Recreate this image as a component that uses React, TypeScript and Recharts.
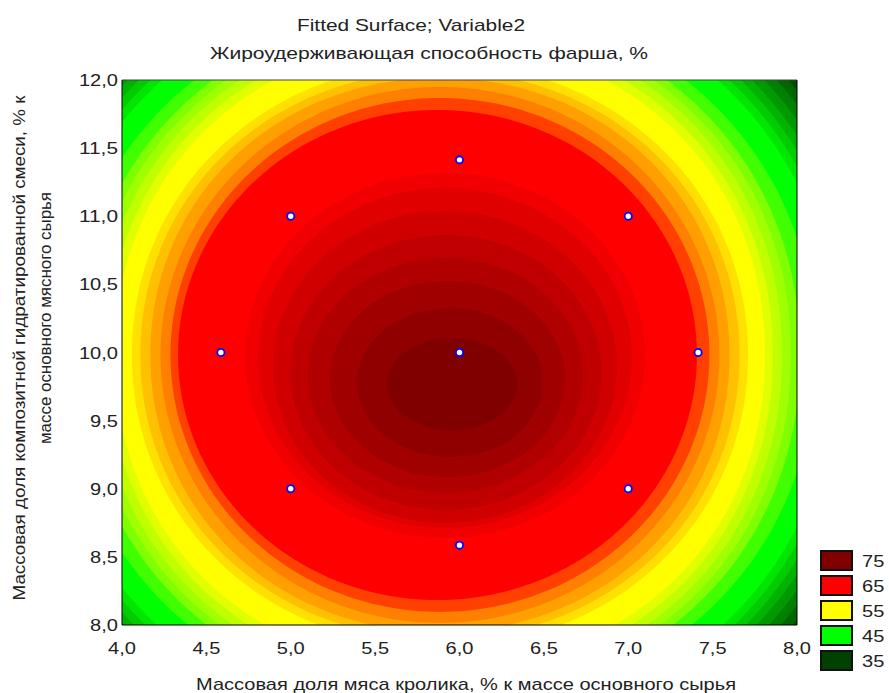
import React from 'react';
import { ScatterChart, Scatter, XAxis, YAxis, ReferenceArea, Customized } from 'recharts';

// ---- axis ticks ----
const xTicks = [4, 4.5, 5, 5.5, 6, 6.5, 7, 7.5, 8];
const yTicks = [8, 8.5, 9, 9.5, 10, 10.5, 11, 11.5, 12];

// ---- experimental design points ----
const designX = [4.586, 5, 5, 6, 6, 6, 7, 7, 7.414];
const designY = [10, 9, 11, 8.586, 10, 11.414, 9, 11, 10];

// ---- legend ----
const legendLevels = [75, 65, 55, 45, 35];
const legendColors = ['#800000', '#ff0000', '#ffff00', '#00ff00', '#004000'];

// ---- contour bands (outermost first): bounding box and roundness of each filled contour ----
const bandColors = [
  '#004d00', '#006600', '#008000', '#009900', '#00b300', '#00cc00', '#00e600', '#00ff00',
  '#40ff00', '#80ff00', '#a0ff00', '#c0ff00', '#e0ff00', '#ffff00', '#ffe000', '#ffc000',
  '#ffa000', '#ff8000', '#ff4000', '#ff0000', '#f00000', '#e00000', '#d00000', '#c00000',
  '#b00000', '#a00000', '#900000', '#800000',
];
const bandX1 = [3.176, 3.235, 3.288, 3.342, 3.395, 3.443, 3.49, 3.537, 3.662, 3.751, 3.804, 3.857, 3.911, 3.958, 4.059, 4.109, 4.168, 4.228, 4.287, 4.332, 4.729, 4.806, 4.895, 4.996, 5.102, 5.233, 5.393, 5.57];
const bandX2 = [8.592, 8.533, 8.48, 8.426, 8.373, 8.325, 8.278, 8.231, 8.106, 8.017, 7.964, 7.911, 7.857, 7.81, 7.709, 7.659, 7.6, 7.54, 7.481, 7.407, 7.099, 7.022, 6.933, 6.844, 6.732, 6.625, 6.495, 6.341];
const bandY1 = [6.818, 6.887, 6.949, 7.012, 7.074, 7.129, 7.185, 7.24, 7.384, 7.45, 7.501, 7.553, 7.611, 7.677, 7.839, 7.898, 7.949, 8.015, 8.096, 8.183, 8.639, 8.712, 8.749, 8.844, 8.969, 9.086, 9.233, 9.431];
const bandY2 = [13.146, 13.077, 13.015, 12.952, 12.89, 12.835, 12.779, 12.724, 12.58, 12.514, 12.463, 12.411, 12.353, 12.287, 12.125, 12.066, 12.015, 11.949, 11.868, 11.78, 11.317, 11.207, 11.039, 10.862, 10.694, 10.525, 10.327, 10.106];
const bandRoundness = [2.1, 2.1, 2.1, 2.1, 2.1, 2.1, 2.1, 2.1, 2.1, 2.1, 2.1, 2.1, 2.1, 2.1, 2.05, 2.05, 2.05, 2, 2, 2, 2, 2, 2, 2, 2, 2, 2, 2];
const backgroundColor = '#003a00';

const points = designX.map((x, i) => ({ x, y: designY[i] }));

const FONT = '"Liberation Sans", Arial, sans-serif';
const TXT = '#222';

const fmt = (v: number) => v.toFixed(1).replace('.', ',');
const numLen = (s: string) => {
  let w = 0;
  for (const c of s) w += c === ',' ? 0.278 : 0.556;
  return w * 17 * 1.18;
};

const XTick = (props: any) => {
  const { x, y, payload } = props;
  const s = fmt(payload.value);
  return (
    <text x={x} y={y + 29} textAnchor="middle" fontFamily={FONT} fontSize={17} fill={TXT}
      textLength={numLen(s)} lengthAdjust="spacingAndGlyphs">{s}</text>
  );
};

const YTick = (props: any) => {
  const { x, y, payload } = props;
  const s = fmt(payload.value);
  return (
    <text x={x} y={y + 6} textAnchor="end" fontFamily={FONT} fontSize={17} fill={TXT}
      textLength={numLen(s)} lengthAdjust="spacingAndGlyphs">{s}</text>
  );
};

// rounded contour inscribed in the reference-area rectangle
const makeBlob = (color: string, n: number) => (p: any) => {
  const cx = p.x + p.width / 2;
  const cy = p.y + p.height / 2;
  const a = Math.abs(p.width) / 2;
  const b = Math.abs(p.height) / 2;
  const steps = 240;
  let d = '';
  for (let i = 0; i < steps; i++) {
    const t = (i / steps) * Math.PI * 2;
    const c = Math.cos(t);
    const s = Math.sin(t);
    const px = cx + a * Math.sign(c) * Math.pow(Math.abs(c), 2 / n);
    const py = cy + b * Math.sign(s) * Math.pow(Math.abs(s), 2 / n);
    d += (i === 0 ? 'M' : 'L') + px.toFixed(2) + ',' + py.toFixed(2);
  }
  d += 'Z';
  return <path d={d} fill={color} stroke="none" clipPath={p.clipPath} />;
};

const Decorations = () => (
  <g>
    <text x={411} y={31} textAnchor="middle" fontFamily={FONT} fontSize={17} fill={TXT}
      textLength={228} lengthAdjust="spacingAndGlyphs">Fitted Surface; Variable2</text>
    <text x={429} y={59} textAnchor="middle" fontFamily={FONT} fontSize={17} fill={TXT}
      textLength={438} lengthAdjust="spacingAndGlyphs">Жироудерживающая способность фарша, %</text>
    <text x={466} y={690} textAnchor="middle" fontFamily={FONT} fontSize={17} fill={TXT}
      textLength={540} lengthAdjust="spacingAndGlyphs">Массовая доля мяса кролика, % к массе основного сырья</text>
    <text x={25} y={348} textAnchor="middle" fontFamily={FONT} fontSize={16} fill={TXT}
      transform="rotate(-90 25 348)" textLength={505} lengthAdjust="spacingAndGlyphs">Массовая доля композитной гидратированной смеси, % к</text>
    <text x={51} y={318} textAnchor="middle" fontFamily={FONT} fontSize={16} fill={TXT}
      transform="rotate(-90 51 318)" textLength={252} lengthAdjust="spacingAndGlyphs">массе основного мясного сырья</text>
    {legendLevels.map((lv, i) => (
      <g key={lv}>
        <rect x={821} y={551 + i * 25} width={31} height={19} fill={legendColors[i]} stroke="#111" strokeWidth={2} />
        <text x={862} y={567 + i * 25} fontFamily={FONT} fontSize={17} fill={TXT}
          textLength={numLen(String(lv))} lengthAdjust="spacingAndGlyphs">{lv}</text>
      </g>
    ))}
  </g>
);

export default function App() {
  return (
    <div style={{ position: 'absolute', left: 0, top: 0, background: '#fff' }}>
      <ScatterChart width={889} height={693} margin={{ top: 80, right: 92, bottom: 28, left: 62 }}>
        <XAxis type="number" dataKey="x" domain={[4, 8]} ticks={xTicks} interval={0} allowDataOverflow
          height={40} tickLine={false} axisLine={false} tickSize={0} tickMargin={0} tick={(p: any) => <XTick {...p} />} />
        <YAxis type="number" dataKey="y" domain={[8, 12]} ticks={yTicks} interval={0} allowDataOverflow
          width={60} tickLine={false} axisLine={false} tickSize={0} tickMargin={4} tick={(p: any) => <YTick {...p} />} />
        <XAxis xAxisId="xb" orientation="bottom" mirror type="number" domain={[4, 8]} ticks={xTicks} interval={0}
          allowDataOverflow tick={false} tickSize={4} tickLine={{ stroke: '#000' }} axisLine={{ stroke: '#000' }} />
        <XAxis xAxisId="xt" orientation="top" mirror type="number" domain={[4, 8]} ticks={xTicks} interval={0}
          allowDataOverflow tick={false} tickSize={4} tickLine={{ stroke: '#000' }} axisLine={{ stroke: '#444' }} />
        <YAxis yAxisId="yl" orientation="left" mirror type="number" domain={[8, 12]} ticks={yTicks} interval={0}
          allowDataOverflow tick={false} tickSize={4} tickLine={{ stroke: '#000' }} axisLine={{ stroke: '#000' }} />
        <YAxis yAxisId="yr" orientation="right" mirror type="number" domain={[8, 12]} ticks={yTicks} interval={0}
          allowDataOverflow tick={false} tickSize={4} tickLine={{ stroke: '#000' }} axisLine={{ stroke: '#000' }} />
        <ReferenceArea x1={3} x2={9} y1={7} y2={13} ifOverflow="hidden" fill={backgroundColor} fillOpacity={1} stroke="none" />
        {bandColors.map((c, i) => (
          <ReferenceArea key={i} x1={bandX1[i]} x2={bandX2[i]} y1={bandY1[i]} y2={bandY2[i]}
            ifOverflow="hidden" shape={makeBlob(c, bandRoundness[i])} />
        ))}
        <Scatter data={points} isAnimationActive={false}
          shape={(p: any) => <circle cx={p.cx} cy={p.cy} r={3.6} fill="#fff" stroke="#0000ff" strokeWidth={1.8} />} />
        <Customized component={Decorations} />
      </ScatterChart>
    </div>
  );
}
